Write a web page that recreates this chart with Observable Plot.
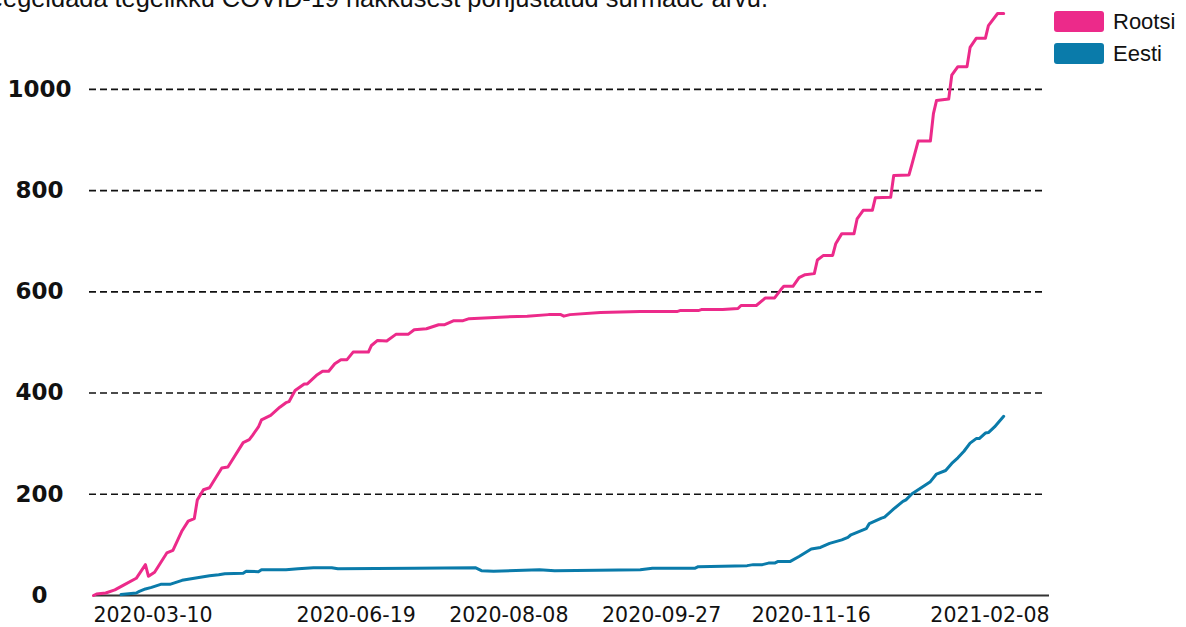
<!DOCTYPE html>
<html>
<head>
<meta charset="utf-8">
<script src="https://cdn.jsdelivr.net/npm/d3@7"></script>
<script src="https://cdn.jsdelivr.net/npm/@observablehq/plot@0.6"></script>
<style>
  html, body { margin: 0; padding: 0; background: #fff; }
  body { position: relative; width: 1186px; height: 627px; overflow: hidden; }
  #title { position: absolute; right: 418px; top: -14px; white-space: nowrap;
           font-family: "Liberation Sans", Arial, sans-serif; font-size: 25.4px; line-height: 25px; color: #111; }
  #chart { position: absolute; left: 0; top: 0; }
  #legend { position: absolute; left: 1054px; top: 11px; font-family: "Liberation Sans", Arial, sans-serif;
            font-size: 22px; color: #111; }
  .item { display: flex; align-items: center; height: 21px; margin-bottom: 11px; }
  .sw { width: 50px; height: 21px; border-radius: 3px; margin-right: 9px; }
</style>
</head>
<body>
<div id="title">peegeldada tegelikku COVID-19 nakkusest põhjustatud surmade arvu.</div>
<div id="chart"></div>
<div id="legend"></div>
<script>
// Series names and colours
const seriesNames = ["Rootsi", "Eesti"];
const seriesColors = ["#EC2A8A", "#0A7BAA"];

// Rootsi: row index along the x axis and cumulative value
const rootsiIdx = [0,1,4,7,10,14,17,18,20,24,26,29,31,33,34,36,38,42,44,49,51,52,54,55,58,61,63,64,66,69,70,73,75,77,79,81,83,85,90,91,93,96,99,103,105,109,113,115,118,121,123,133,142,149,153,154,156,166,179,191,192,198,199,206,211,212,217,220,223,225,226,229,231,233,236,237,239,242,243,245,249,250,252,255,256,261,262,267,268,270,274,275,276,280,281,283,286,287,289,292,293,296,298];
const rootsiVal = [0,3,5,11,21,34,61,38,46,84,89,128,147,152,189,209,213,252,254,302,308,316,333,347,356,372,381,383,405,418,418,435,443,443,458,466,466,481,481,494,504,503,516,516,525,527,535,535,543,543,547,550,552,555,555,552,555,559,561,561,563,563,565,565,567,573,573,588,588,604,611,611,628,634,636,663,672,672,695,715,715,744,761,761,786,787,830,831,853,898,898,952,978,981,1028,1045,1045,1083,1101,1101,1126,1150,1150];

// Eesti
const eestiIdx = [9,14,15,17,19,22,25,29,32,35,38,41,43,49,50,54,55,63,67,72,78,80,105,125,127,131,146,151,179,183,197,198,214,216,219,221,223,224,228,231,235,238,241,245,247,248,253,254,258,259,262,265,266,268,272,274,276,279,281,283,285,287,289,290,292,293,295,298];
const eestiVal = [2,5,8,13,16,22,22,30,33,36,39,41,43,44,48,47,51,51,53,55,55,53,54,55,49,48,51,49,51,54,54,57,59,61,61,64,64,67,67,77,92,95,103,110,115,120,132,142,153,155,171,186,189,201,217,225,240,247,261,272,285,301,310,310,321,322,333,354];

// Axis ticks
const xTickIdx = [0, 86, 136, 186, 235, 313];
const xTickLabels = ["2020-03-10", "2020-06-19", "2020-08-08", "2020-09-27", "2020-11-16", "2021-02-08"];
const yTicks = [0, 200, 400, 600, 800, 1000];
const yGrid = [200, 400, 600, 800, 1000];
const xDomain = [0, 313];
const yDomain = [0, 1150];

const rootsi = rootsiIdx.map((i, k) => ({i, v: rootsiVal[k]}));
const eesti = eestiIdx.map((i, k) => ({i, v: eestiVal[k]}));
const xt = xTickIdx.map((i, k) => ({i, label: xTickLabels[k]}));
const last = xt.length - 1;

const tickFont = {fontFamily: "DejaVu Sans", fontSize: 20.5, fill: "#111"};

const chart = Plot.plot({
  width: 1186,
  height: 627,
  marginLeft: 93,
  marginRight: 137,
  marginTop: 13,
  marginBottom: 32,
  x: {domain: xDomain, axis: null},
  y: {domain: yDomain, axis: null},
  marks: [
    Plot.ruleY(yGrid, {stroke: "#111", strokeWidth: 1.6, strokeDasharray: "7,4", insetLeft: -4, insetRight: 4}),
    Plot.ruleY([0], {stroke: "#333", strokeWidth: 2}),
    Plot.line(eesti, {x: "i", y: "v", stroke: seriesColors[1], strokeWidth: 3}),
    Plot.line(rootsi, {x: "i", y: "v", stroke: seriesColors[0], strokeWidth: 3}),
    Plot.text(yTicks, {y: d => d, text: d => String(d), frameAnchor: "left", dx: -54, textAnchor: "middle",
      fontFamily: "DejaVu Sans", fontWeight: "bold", fontSize: 23, fill: "#111"}),
    Plot.text(xt.filter((d, k) => k === 0), {x: "i", text: "label", frameAnchor: "bottom", lineAnchor: "top", dy: 12, textAnchor: "start", ...tickFont}),
    Plot.text(xt.filter((d, k) => k > 0 && k < last), {x: "i", text: "label", frameAnchor: "bottom", lineAnchor: "top", dy: 12, textAnchor: "middle", ...tickFont}),
    Plot.text(xt.filter((d, k) => k === last), {x: "i", text: "label", frameAnchor: "bottom", lineAnchor: "top", dy: 12, textAnchor: "end", ...tickFont})
  ]
});
document.getElementById("chart").appendChild(chart);

const legend = document.getElementById("legend");
seriesNames.forEach((name, k) => {
  const item = document.createElement("div");
  item.className = "item";
  const sw = document.createElement("div");
  sw.className = "sw";
  sw.style.background = seriesColors[k];
  const t = document.createElement("span");
  t.textContent = name;
  item.appendChild(sw);
  item.appendChild(t);
  legend.appendChild(item);
});
</script>
</body>
</html>
